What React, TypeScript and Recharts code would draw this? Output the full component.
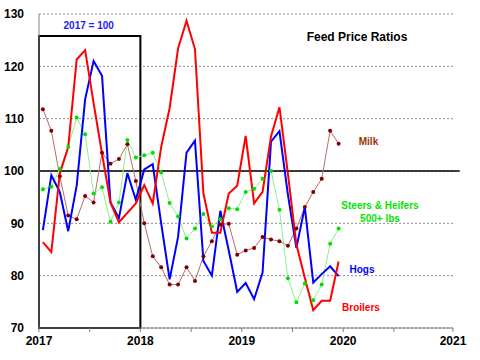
import { LineChart, Line, XAxis, YAxis, CartesianGrid, ReferenceLine, ReferenceArea } from 'recharts';

// monthly ratios, Jan 2017 .. Dec 2019 (2017 = 100)
const startYear = 2017;

const hogs = [
  88.7, 99.2, 96.0, 88.5, 97.2, 113.7, 121.0, 118.2, 94.0, 91.0, 99.6, 94.5,
  100.3, 101.3, 90.0, 79.3, 87.4, 103.5, 105.8, 82.8, 80.0, 92.4, 84.8, 76.9,
  78.6, 75.5, 80.6, 105.6, 107.6, 95.5, 85.3, 93.1, 78.7, 80.3, 81.8, 79.9,
];

const broilers = [
  86.4, 84.5, 99.5, 104.6, 121.3, 123.1, 113.0, 103.3, 94.0, 90.2, 92.0, 93.8,
  97.3, 93.8, 104.6, 112.0, 123.4, 128.7, 123.3, 95.7, 88.2, 88.2, 95.7, 97.2,
  106.7, 93.8, 96.0, 106.6, 112.2, 99.5, 86.0, 79.6, 73.4, 75.2, 75.2, 82.7,
];

const milk = [
  111.8, 107.7, 99.0, 91.5, 90.8, 95.2, 94.0, 103.5, 101.4, 102.3, 105.1, 98.1,
  90.0, 83.7, 81.6, 78.3, 78.3, 81.6, 79.0, 83.7, 86.6, 89.8, 89.9, 84.0,
  84.8, 85.3, 87.4, 86.9, 86.6, 85.7, 89.0, 93.1, 96.0, 98.5, 107.7, 105.2,
];

const steers = [
  96.5, 97.0, 100.4, 104.6, 110.2, 107.0, 95.7, 96.9, 90.3, 94.0, 105.9, 102.6,
  103.0, 103.5, 99.7, 93.9, 91.3, 87.1, 89.0, 91.8, 89.4, 90.8, 92.9, 92.7,
  96.0, 96.6, 98.5, 100.0, 92.6, 79.5, 74.9, 78.5, 75.3, 78.3, 86.1, 89.0,
];

const yTicks = [70, 80, 90, 100, 110, 120, 130];
const xTicks = [2017, 2017.5, 2018, 2018.5, 2019, 2019.5, 2020, 2020.5, 2021.0833];
const xTickLabels = ['2017', '', '2018', '', '2019', '', '2020', '', '2021'];

// points sit mid-month on the date axis
const data = hogs.map((v, i) => ({
  t: startYear + (i + 0.46) / 12,
  hogs: v,
  broilers: broilers[i],
  milk: milk[i],
  steers: steers[i],
}));

const font = '"Liberation Sans", Arial, sans-serif';
const tickStyle = { fill: '#000', fontSize: 12, fontWeight: 700, fontFamily: font };

const MilkDot = (props: any) => {
  const { cx, cy } = props;
  if (cx == null || cy == null) return null;
  return <circle cx={cx} cy={cy} r={2} fill="#800000" />;
};

const SteerDot = (props: any) => {
  const { cx, cy } = props;
  if (cx == null || cy == null) return null;
  return <circle cx={cx} cy={cy} r={2} fill="#00e000" />;
};

export default function App() {
  return (
    <div style={{ position: 'absolute', left: 0, top: 0, width: 480, height: 360, background: '#fff' }}>
      <LineChart width={480} height={360} data={data} margin={{ top: 14, right: 27, bottom: 0, left: 0 }}>
        <CartesianGrid vertical={false} stroke="#8c8c8c" strokeDasharray="2 2" />
        <XAxis
          type="number"
          dataKey="t"
          domain={[2017, 2021.0833]}
          ticks={xTicks}
          interval={0}
          tickFormatter={(v: number) => xTickLabels[xTicks.indexOf(v)] ?? ''}
          height={32}
          tickSize={4}
          tickMargin={4}
          stroke="#808080"
          tick={tickStyle}
        />
        <YAxis
          domain={[70, 130]}
          ticks={yTicks}
          width={39}
          tickLine={false}
          tickMargin={9}
          stroke="#808080"
          tick={tickStyle}
        />
        <ReferenceArea x1={2017} x2={2018} y1={70} y2={125.8} fill="none" stroke="#000" strokeWidth={2} />
        <ReferenceLine
          segment={[{ x: 2017, y: 100 }, { x: 2021.15, y: 100 }]}
          ifOverflow="visible"
          stroke="#000"
          strokeWidth={1.5}
        />
        <Line dataKey="milk" stroke="#b86b6b" strokeWidth={1} dot={<MilkDot />} isAnimationActive={false} />
        <Line dataKey="steers" stroke="#8cf08c" strokeWidth={1} dot={<SteerDot />} isAnimationActive={false} />
        <Line dataKey="hogs" stroke="#0000ff" strokeWidth={2} dot={false} isAnimationActive={false} />
        <Line dataKey="broilers" stroke="#ff0000" strokeWidth={2} dot={false} isAnimationActive={false} />
      </LineChart>
      <svg
        width={480}
        height={360}
        style={{ position: 'absolute', left: 0, top: 0, pointerEvents: 'none' }}
        fontFamily={font}
        fontWeight={700}
        textAnchor="middle"
      >
        <text x={88.7} y={29} fontSize={10} fill="#2222ee">2017 = 100</text>
        <text x={357} y={40.5} fontSize={12} fill="#000">Feed Price Ratios</text>
        <text x={368.5} y={145} fontSize={10} fill="#993300">Milk</text>
        <text x={380} y={209} fontSize={10} fill="#00e600">Steers &amp; Heifers</text>
        <text x={380} y={221.5} fontSize={10} fill="#00e600">500+ lbs</text>
        <text x={362} y={272.5} fontSize={10} fill="#0000ff">Hogs</text>
        <text x={361} y={310.5} fontSize={10} fill="#ff0000">Broilers</text>
      </svg>
    </div>
  );
}
